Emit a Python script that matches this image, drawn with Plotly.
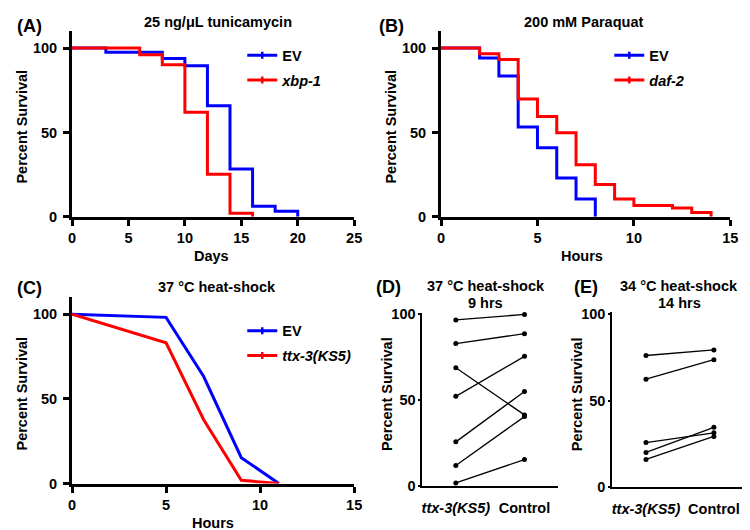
import plotly.graph_objects as go

# ---------------- data ----------------
# (A) 25 ng/uL tunicamycin, days
A_days_ev = [0, 3, 8, 10, 12, 14, 16, 18, 20]
A_surv_ev = [100, 97.5, 93.8, 89.6, 65.8, 28.3, 6.3, 3.3, 0]
A_days_xbp = [0, 6, 8, 10, 12, 14, 16]
A_surv_xbp = [100, 96, 90.2, 62, 25.2, 2.1, 0]

# (B) 200 mM Paraquat, hours
B_hours_ev = [0, 2, 3, 4, 5, 6, 7, 8]
B_surv_ev = [100, 94.2, 83.5, 53.3, 41, 23, 10.6, 0]
B_hours_daf = [0, 2, 3, 4, 5, 6, 7, 8, 9, 10, 12, 13, 14]
B_surv_daf = [100, 96.7, 93.3, 69.8, 59.4, 49.8, 30.8, 19.2, 10.6, 6.7, 5.2, 2.5, 0]

# (C) 37 C heat-shock, hours
C_hours = [0, 5, 7, 9, 11]
C_surv_ev = [100, 98.1, 63.2, 15.3, 0]
C_surv_ttx = [100, 83.1, 37.7, 1.9, 0]

# (D) 37 C heat-shock 9 hrs, paired
D_ttx = [96.8, 83, 68.9, 52.3, 25.8, 12.1, 1.9]
D_control = [100, 88.8, 41.5, 75.6, 55.1, 40.5, 15.5]

# (E) 34 C heat-shock 14 hrs, paired
E_ttx = [76.1, 62.4, 25.8, 20.1, 16]
E_control = [79.3, 73.7, 31.4, 34.6, 29.3]

pair_labels = ["<i>ttx-3(KS5)</i>", "Control"]
pair_pos = [0, 1]
survival_ticks = [0, 50, 100]

BLUE = "#0000FF"
RED = "#FF0000"
FONT = "Liberation Sans, Arial, sans-serif"
FS = 14.5

W, H = 750, 530


def px(x):
    return x / W


def py(y):
    return 1 - y / H


fig = go.Figure()


def km(x, y, color, xa, ya):
    fig.add_trace(go.Scatter(x=x, y=y, mode="lines", line=dict(color=color, width=3, shape="hv"),
                             xaxis=xa, yaxis=ya, showlegend=False, hoverinfo="skip"))


def leg(name, color, xa, ya, legend, group):
    fig.add_trace(go.Scatter(x=[None], y=[None], mode="lines+markers", name=name,
                             line=dict(color=color, width=3),
                             marker=dict(symbol="line-ns", size=5, color=color,
                                         line=dict(color=color, width=2.5)),
                             xaxis=xa, yaxis=ya, legend=legend, legendgroup=group))


# A
km(A_days_ev, A_surv_ev, BLUE, "x", "y")
km(A_days_xbp, A_surv_xbp, RED, "x", "y")
leg("EV", BLUE, "x", "y", "legend", "a1")
leg("<i>xbp-1</i>", RED, "x", "y", "legend", "a2")

# B
km(B_hours_ev, B_surv_ev, BLUE, "x2", "y2")
km(B_hours_daf, B_surv_daf, RED, "x2", "y2")
leg("EV", BLUE, "x2", "y2", "legend2", "b1")
leg("<i>daf-2</i>", RED, "x2", "y2", "legend2", "b2")

# C
fig.add_trace(go.Scatter(x=C_hours, y=C_surv_ev, mode="lines", line=dict(color=BLUE, width=3),
                         xaxis="x3", yaxis="y3", showlegend=False))
fig.add_trace(go.Scatter(x=C_hours, y=C_surv_ttx, mode="lines", line=dict(color=RED, width=3),
                         xaxis="x3", yaxis="y3", showlegend=False))
leg("EV", BLUE, "x3", "y3", "legend3", "c1")
leg("<i>ttx-3(KS5)</i>", RED, "x3", "y3", "legend3", "c2")

# D and E paired lines
for a, b in zip(D_ttx, D_control):
    fig.add_trace(go.Scatter(x=pair_pos, y=[a, b], mode="lines+markers",
                             line=dict(color="black", width=1.3),
                             marker=dict(color="black", size=5), cliponaxis=False,
                             xaxis="x4", yaxis="y4", showlegend=False))
for a, b in zip(E_ttx, E_control):
    fig.add_trace(go.Scatter(x=pair_pos, y=[a, b], mode="lines+markers",
                             line=dict(color="black", width=1.3),
                             marker=dict(color="black", size=5), cliponaxis=False,
                             xaxis="x5", yaxis="y5", showlegend=False))

tickfont = dict(family=FONT, size=FS, color="black", weight="bold")

km_x = dict(showline=True, linewidth=3, linecolor="black", ticks="outside", ticklen=6, tickwidth=3,
            tickcolor="black", showgrid=False, zeroline=False, tickfont=tickfont)
km_y = dict(showline=True, linewidth=3, linecolor="black", ticks="outside", ticklen=6, tickwidth=3,
            tickcolor="black", showgrid=False, zeroline=False, tickfont=tickfont,
            tickvals=survival_ticks, range=[0, 110], ticklabelstandoff=3)

pair_x = dict(showline=True, linewidth=1.8, linecolor="black", ticks="", showgrid=False,
              zeroline=False, tickfont=tickfont, tickvals=pair_pos, ticktext=pair_labels,
              ticklabelstandoff=8)
pair_y = dict(showline=True, linewidth=1.8, linecolor="black", ticks="outside", ticklen=2,
              tickwidth=1.5, tickcolor="black", showgrid=False, zeroline=False, tickfont=tickfont,
              tickvals=survival_ticks, range=[0, 101])

yA = [py(208.3), py(17.7)]
fig.update_layout(
    xaxis=dict(km_x, domain=[px(61), px(347.7)], range=[0, 25], tickvals=[0, 5, 10, 15, 20, 25], anchor="y"),
    yaxis=dict(km_y, domain=yA, anchor="x"),
    xaxis2=dict(km_x, domain=[px(436), px(730)], range=[0, 15], tickvals=[0, 5, 10, 15], anchor="y2"),
    yaxis2=dict(km_y, domain=yA, anchor="x2"),
    xaxis3=dict(km_x, domain=[px(61), px(347.7)], range=[0, 15], tickvals=[0, 5, 10, 15], anchor="y3"),
    yaxis3=dict(km_y, domain=[py(482.3), py(290.9)], anchor="x3"),
    xaxis4=dict(pair_x, domain=[px(417), px(555)], range=[-0.488, 1.49], anchor="y4"),
    yaxis4=dict(pair_y, domain=[py(485), py(306.8)], anchor="x4"),
    xaxis5=dict(pair_x, domain=[px(610), px(746.7)], range=[-0.497, 1.484], anchor="y5"),
    yaxis5=dict(pair_y, domain=[py(486), py(306.5)], anchor="x5"),
)

legend_common = dict(xanchor="left", yanchor="top", bgcolor="rgba(0,0,0,0)",
                     font=dict(family=FONT, size=FS, color="black", weight="bold"),
                     traceorder="grouped", tracegroupgap=3, itemwidth=30)
fig.update_layout(
    legend=dict(legend_common, x=px(234), y=py(26)),
    legend2=dict(legend_common, x=px(607), y=py(26)),
    legend3=dict(legend_common, x=px(234), y=py(309)),
)

ann = []


def text(x, y, s, size=FS, angle=0, xanchor="center"):
    ann.append(dict(x=px(x), y=py(y), xref="paper", yref="paper", text=s, showarrow=False,
                    xanchor=xanchor, yanchor="middle", textangle=angle,
                    font=dict(family=FONT, size=size, color="black", weight="bold")))


# panel letters
text(3, 12.5, "(A)", size=18, xanchor="left")
text(371, 12.5, "(B)", size=18, xanchor="left")
text(3, 281, "(C)", size=18, xanchor="left")
text(368, 280, "(D)", size=18, xanchor="left")
text(569, 280, "(E)", size=18, xanchor="left")

# titles
text(209, 8.5, "25 ng/μL tunicamycin")
text(580.7, 8.5, "200 mM Paraquat")
text(208, 280, "37 °C heat-shock")
text(481.7, 279, "37 °C heat-shock")
text(481.7, 297, "9 hrs")
text(678.3, 279, "34 °C heat-shock")
text(678.3, 297, "14 hrs")

# axis titles
text(203, 248.3, "Days")
text(579, 248.3, "Hours")
text(204, 523, "Hours")
text(10, 115.8, "Percent Survival", angle=-90)
text(385, 115.8, "Percent Survival", angle=-90)
text(10, 390, "Percent Survival", angle=-90)
text(381.7, 390.7, "Percent Survival", angle=-90)
text(575, 390.7, "Percent Survival", angle=-90)

fig.update_layout(
    annotations=ann,
    width=W, height=H,
    margin=dict(l=0, r=0, t=0, b=0),
    paper_bgcolor="white", plot_bgcolor="white",
    font=dict(family=FONT, size=FS, color="black"),
)

fig.write_html("out.html")
